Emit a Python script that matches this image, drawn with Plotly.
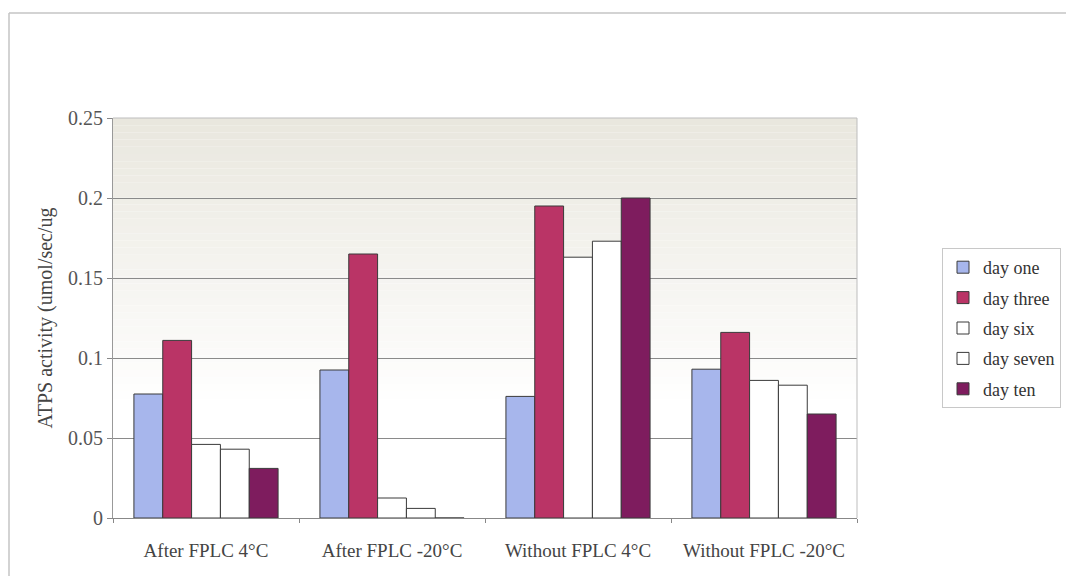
import plotly.graph_objects as go

# ATPS activity measured on successive days for each storage condition
categories = ["After FPLC 4°C", "After FPLC -20°C", "Without FPLC 4°C", "Without FPLC -20°C"]
series_names = ["day one", "day three", "day six", "day seven", "day ten"]
day_one = [0.0775, 0.0925, 0.076, 0.093]
day_three = [0.111, 0.165, 0.195, 0.116]
day_six = [0.046, 0.0125, 0.163, 0.086]
day_seven = [0.043, 0.006, 0.173, 0.083]
day_ten = [0.031, 0.0, 0.2, 0.065]
y_ticks = [0, 0.05, 0.1, 0.15, 0.2, 0.25]
y_tick_labels = ["0", "0.05", "0.1", "0.15", "0.2", "0.25"]

series_values = [day_one, day_three, day_six, day_seven, day_ten]
fills = ["#A7B6EC", "#BA3466", "#FFFFFF", "#FFFFFF", "#7E1C5E"]

W, H = 1066, 576
L, R, T, B = 113, 857, 118, 518

fig = go.Figure()
for i, (name, vals) in enumerate(zip(series_names, series_values)):
    fig.add_trace(go.Bar(
        name=name, x=categories, y=vals,
        marker=dict(color=fills[i], line=dict(color="#3a3a3a", width=1)),
        legendgroup=name,
    ))

# Plot-area fill: pale beige at the top fading to white lower down
shapes = []
n = 40
top, bottom = 0.25, 0.07
c0 = (233, 231, 222)
c1 = (255, 255, 255)
for k in range(n):
    y_hi = top - (top - bottom) * k / n
    y_lo = top - (top - bottom) * (k + 1) / n
    t = (k + 0.5) / n
    col = tuple(round(c0[j] + (c1[j] - c0[j]) * t) for j in range(3))
    shapes.append(dict(type="rect", xref="paper", yref="y", x0=0, x1=1,
                       y0=y_lo, y1=y_hi, layer="below",
                       fillcolor="rgb(%d,%d,%d)" % col, line=dict(width=0)))

# Plot-area border (top and right)
shapes.append(dict(type="line", xref="paper", yref="paper", x0=0, x1=1, y0=1, y1=1,
                   line=dict(color="#BDBDBD", width=1)))
shapes.append(dict(type="line", xref="paper", yref="paper", x0=1, x1=1, y0=0, y1=1,
                   line=dict(color="#BDBDBD", width=1)))

# Outer chart frame
def px_x(p):
    return (p - L) / (R - L)

def px_y(p):
    return (B - p) / (B - T)

shapes.append(dict(type="line", xref="paper", yref="paper",
                   x0=px_x(9), x1=px_x(1066), y0=px_y(13), y1=px_y(13),
                   line=dict(color="#C4C4C4", width=1.5)))
shapes.append(dict(type="line", xref="paper", yref="paper",
                   x0=px_x(9), x1=px_x(9), y0=px_y(13), y1=px_y(576),
                   line=dict(color="#C4C4C4", width=1.5)))

font_family = "Liberation Serif, Times New Roman, serif"

fig.update_layout(
    width=W, height=H,
    margin=dict(l=L, r=W - R, t=T, b=H - B, pad=0, autoexpand=False),
    paper_bgcolor="white",
    plot_bgcolor="white",
    barmode="group",
    bargap=0.225,
    bargroupgap=0,
    shapes=shapes,
    font=dict(family=font_family, size=19, color="#444"),
    showlegend=True,
    legend=dict(
        x=px_x(942), y=px_y(248), xanchor="left", yanchor="top",
        bordercolor="#C8C8C8", borderwidth=1, bgcolor="white",
        font=dict(family=font_family, size=18, color="#333"),
        tracegroupgap=4, itemwidth=30,
    ),
    xaxis=dict(
        type="category",
        showgrid=False, showline=True, linecolor="#888", linewidth=1,
        ticks="outside", tickson="boundaries", ticklen=4, tickcolor="#888",
        tickfont=dict(family=font_family, size=19, color="#444"),
        ticklabelstandoff=15,
        fixedrange=True,
    ),
    yaxis=dict(
        range=[0, 0.25],
        tickvals=y_ticks, ticktext=y_tick_labels,
        showgrid=True, gridcolor="#8a8a8a", gridwidth=1,
        showline=True, linecolor="#999", linewidth=1,
        ticks="outside", ticklen=5, tickcolor="#888",
        tickfont=dict(family=font_family, size=20, color="#555"),
        zeroline=False,
        title=dict(text="ATPS activity (umol/sec/ug",
                   font=dict(family=font_family, size=20, color="#444"),
                   standoff=10),
        fixedrange=True,
    ),
)

fig.write_html("out.html")
